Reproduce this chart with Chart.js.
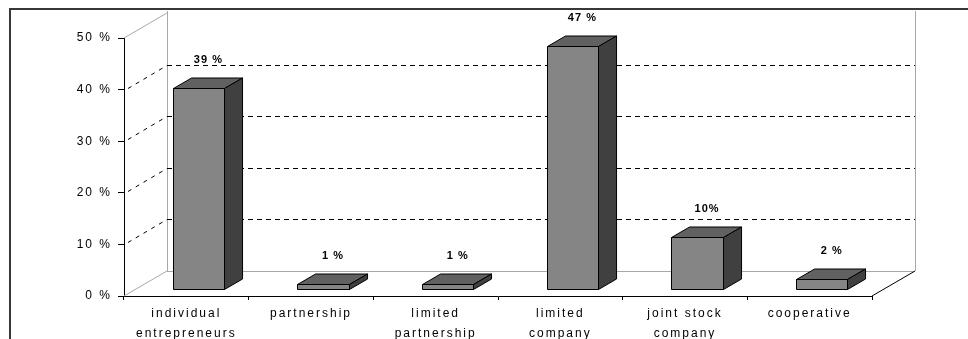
<!DOCTYPE html>
<html>
<head>
<meta charset="utf-8">
<script src="https://cdn.jsdelivr.net/npm/chart.js@4/dist/chart.umd.min.js"></script>
<style>
  html, body { margin: 0; padding: 0; background: #fff; }
  canvas { display: block; }
</style>
</head>
<body>
<canvas id="legalForms" width="968" height="339"></canvas>
<script>
// Share of businesses by legal form
const categories = [
    ["individual", "entrepreneurs"],
    "partnership",
    ["limited", "partnership"],
    ["limited", "company"],
    ["joint stock", "company"],
    "cooperative",
];
const shares = [39, 1, 1, 47, 10, 2];
const shareLabels = ["39 %", "1 %", "1 %", "47 %", "10%", "2 %"];
const yTicks = [0, 10, 20, 30, 40, 50];

// depth of the 3D box and where the bars sit inside it
const DEPTH_X = 43;
const DEPTH_Y = 25;
const BAR_FRONT = 0.28;
const BAR_BACK = 0.70;

const FONT = "'Liberation Sans', Arial, sans-serif";

function line(ctx, x0, y0, x1, y1, color, dash) {
    ctx.save();
    ctx.strokeStyle = color;
    ctx.lineWidth = 1;
    ctx.setLineDash(dash || []);
    ctx.beginPath();
    ctx.moveTo(x0, y0);
    ctx.lineTo(x1, y1);
    ctx.stroke();
    ctx.restore();
}

function poly(ctx, pts, fill) {
    ctx.beginPath();
    ctx.moveTo(pts[0][0], pts[0][1]);
    for (let i = 1; i < pts.length; i++) ctx.lineTo(pts[i][0], pts[i][1]);
    ctx.closePath();
    ctx.fillStyle = fill;
    ctx.fill();
    ctx.stroke();
}

const box3d = {
    id: "box3d",
    beforeDraw(chart) {
        const ctx = chart.ctx;
        ctx.save();
        ctx.fillStyle = "#fff";
        ctx.fillRect(0, 0, chart.width, chart.height);
        ctx.strokeStyle = "#383838";
        ctx.lineWidth = 2;
        ctx.strokeRect(10, 9, chart.width + 20, chart.height + 20);
        ctx.restore();
        ctx.letterSpacing = "2px";
    },
    beforeDatasetsDraw(chart) {
        const ctx = chart.ctx;
        const a = chart.chartArea;
        const y = chart.scales.y;
        const wall = "#a8a8a8";
        const top = y.getPixelForValue(50);
        const floor = y.getPixelForValue(0);

        // walls and floor edges
        line(ctx, a.left + DEPTH_X + 0.5, floor - DEPTH_Y, a.left + DEPTH_X + 0.5, top - DEPTH_Y - 2, wall);
        line(ctx, a.right + DEPTH_X + 0.5, floor - DEPTH_Y, a.right + DEPTH_X + 0.5, top - DEPTH_Y - 2, wall);
        line(ctx, a.left + DEPTH_X, floor - DEPTH_Y + 0.5, a.right + DEPTH_X, floor - DEPTH_Y + 0.5, wall);
        line(ctx, a.left, floor, a.left + DEPTH_X, floor - DEPTH_Y, wall);
        line(ctx, a.left, top, a.left + DEPTH_X, top - DEPTH_Y, wall);
        line(ctx, a.right, floor, a.right + DEPTH_X, floor - DEPTH_Y, "#000");

        // dashed gridlines on the side and back walls
        yTicks.filter(v => v > 0 && v < 50).forEach(v => {
            const py = Math.round(y.getPixelForValue(v)) + 0.5;
            line(ctx, a.left + 4, py - 2, a.left + DEPTH_X, py - DEPTH_Y, "#000", [4, 5]);
            line(ctx, a.left + DEPTH_X, py - DEPTH_Y, a.right + DEPTH_X, py - DEPTH_Y, "#000", [5, 4]);
        });
    },
    afterDatasetsDraw(chart) {
        const ctx = chart.ctx;
        const meta = chart.getDatasetMeta(0);
        const fx = DEPTH_X * BAR_FRONT, fy = DEPTH_Y * BAR_FRONT;
        const dx = DEPTH_X * (BAR_BACK - BAR_FRONT), dy = DEPTH_Y * (BAR_BACK - BAR_FRONT);

        ctx.save();
        ctx.strokeStyle = "#000";
        ctx.lineWidth = 1;
        ctx.lineJoin = "miter";
        meta.data.forEach((bar, i) => {
            const x0 = Math.round(bar.x - bar.width / 2 + fx) + 0.5;
            const x1 = Math.round(bar.x + bar.width / 2 + fx) + 0.5;
            const t = Math.round(bar.y - fy) + 0.5;
            const b = Math.round(bar.base - fy) + 0.5;
            poly(ctx, [[x0, t], [x1, t], [x1 + dx, t - dy], [x0 + dx, t - dy]], "#616161");
            poly(ctx, [[x1, t], [x1 + dx, t - dy], [x1 + dx, b - dy], [x1, b]], "#404040");
            poly(ctx, [[x0, t], [x1, t], [x1, b], [x0, b]], "#858585");

            // value label above the box
            ctx.save();
            ctx.letterSpacing = "1px";
            ctx.font = "bold 11px " + FONT;
            ctx.fillStyle = "#000";
            ctx.textAlign = "center";
            ctx.textBaseline = "middle";
            ctx.fillText(shareLabels[i], bar.x + fx + 10, t - dy - 18);
            ctx.restore();
        });
        ctx.restore();
    },
};

new Chart(document.getElementById("legalForms"), {
    type: "bar",
    data: {
        labels: categories,
        datasets: [{
            data: shares,
            backgroundColor: "rgba(0,0,0,0)",
            borderWidth: 0,
            barPercentage: 0.41,
            categoryPercentage: 1,
        }],
    },
    options: {
        responsive: false,
        animation: false,
        events: [],
        layout: { padding: { top: 38, right: 96, left: 0, bottom: 0 } },
        plugins: { legend: { display: false }, tooltip: { enabled: false } },
        scales: {
            x: {
                afterFit(scale) { scale.height = 43; },
                grid: { offset: true, drawOnChartArea: false, color: "#000", tickLength: 4 },
                border: { color: "#000" },
                ticks: {
                    color: "#000",
                    font: { family: FONT, size: 12, lineHeight: 1.7 },
                    padding: 3,
                    maxRotation: 0,
                    autoSkip: false,
                },
            },
            y: {
                min: 0,
                max: 50,
                afterFit(scale) { scale.width = 124; },
                grid: { drawOnChartArea: false, color: "#000", tickLength: 6 },
                border: { color: "#000" },
                ticks: {
                    stepSize: 10,
                    color: "#000",
                    font: { family: FONT, size: 12 },
                    padding: 6,
                    callback: v => v + " %",
                },
            },
        },
    },
    plugins: [box3d],
});
</script>
</body>
</html>
